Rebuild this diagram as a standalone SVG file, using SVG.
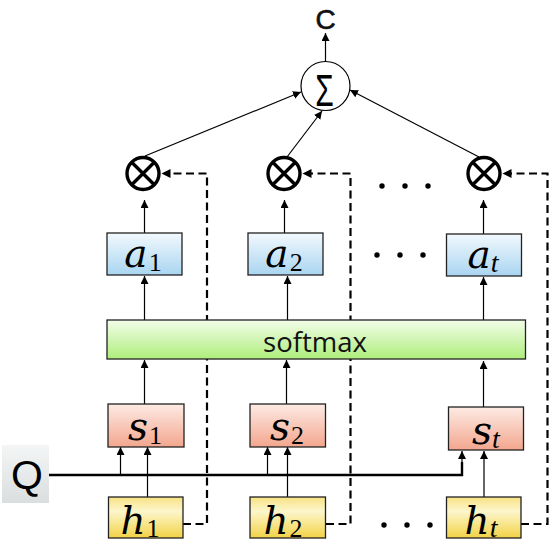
<svg xmlns="http://www.w3.org/2000/svg" width="550" height="553" viewBox="0 0 550 553">
<defs>
<linearGradient id="gA" x1="0" y1="0" x2="0" y2="1"><stop offset="0" stop-color="#f2f9fd"/><stop offset="1" stop-color="#a9d5f1"/></linearGradient>
<linearGradient id="gS" x1="0" y1="0" x2="0" y2="1"><stop offset="0" stop-color="#fdebe4"/><stop offset="1" stop-color="#f3a68e"/></linearGradient>
<linearGradient id="gH" x1="0" y1="0" x2="0" y2="1"><stop offset="0" stop-color="#f7e283"/><stop offset="0.35" stop-color="#fdf6cc"/><stop offset="1" stop-color="#f2d245"/></linearGradient>
<linearGradient id="gM" x1="0" y1="0" x2="0" y2="1"><stop offset="0" stop-color="#f3fde9"/><stop offset="1" stop-color="#aeee7c"/></linearGradient>
<linearGradient id="gQ" x1="0" y1="0" x2="0" y2="1"><stop offset="0" stop-color="#f4f6f6"/><stop offset="1" stop-color="#dadede"/></linearGradient>
<marker id="ah" viewBox="0 0 10 10" refX="10" refY="5" markerWidth="8" markerHeight="8" markerUnits="userSpaceOnUse" orient="auto"><path d="M0,0 L10,5 L0,10 z" fill="#000"/></marker>
<style>
.box{stroke:#222;stroke-width:1.3}
.ln{stroke:#000;stroke-width:1.2;fill:none}
.dash{stroke:#000;stroke-width:2.2;fill:none;stroke-dasharray:8,4.5}
.ql{stroke:#000;stroke-width:2.4;fill:none}
.mt{font-family:"DejaVu Serif","Liberation Serif",serif;font-style:italic;font-size:39px;fill:#000}
.sub{font-family:"Liberation Serif",serif;font-size:26px;font-style:normal}
.subi{font-family:"Liberation Serif",serif;font-size:28px;font-style:italic}
.dot{fill:#000}
.ot{stroke:#000;stroke-width:3.4;fill:#fff}
.ox{stroke:#000;stroke-width:3.4}
</style>
</defs>

<g id="connectors">
  <line class="ln" x1="325.5" y1="61" x2="325.5" y2="33" marker-end="url(#ah)"/>
  <line class="ln" x1="145" y1="156" x2="301" y2="92" marker-end="url(#ah)"/>
  <line class="ln" x1="287" y1="157" x2="322" y2="111" marker-end="url(#ah)"/>
  <line class="ln" x1="479" y1="157" x2="350" y2="90" marker-end="url(#ah)"/>
  <line class="ln" x1="144.5" y1="233" x2="144.5" y2="200" marker-end="url(#ah)"/>
  <line class="ln" x1="284.5" y1="233" x2="284.5" y2="200" marker-end="url(#ah)"/>
  <line class="ln" x1="483.5" y1="234" x2="483.5" y2="200" marker-end="url(#ah)"/>
  <line class="ln" x1="144.5" y1="320" x2="144.5" y2="276" marker-end="url(#ah)"/>
  <line class="ln" x1="287.5" y1="320" x2="287.5" y2="276" marker-end="url(#ah)"/>
  <line class="ln" x1="483.5" y1="320" x2="483.5" y2="277" marker-end="url(#ah)"/>
  <line class="ln" x1="144.5" y1="404" x2="144.5" y2="360" marker-end="url(#ah)"/>
  <line class="ln" x1="286.5" y1="404" x2="286.5" y2="360" marker-end="url(#ah)"/>
  <line class="ln" x1="483.5" y1="407" x2="483.5" y2="361" marker-end="url(#ah)"/>
  <line class="ln" x1="147.5" y1="497" x2="147.5" y2="447" marker-end="url(#ah)"/>
  <line class="ln" x1="287.5" y1="497" x2="287.5" y2="447" marker-end="url(#ah)"/>
  <line class="ln" x1="484" y1="497" x2="484" y2="451" marker-end="url(#ah)"/>
  <polyline class="ql" points="49,475 462,475 462,462"/>
  <line class="ln" x1="462" y1="463" x2="462" y2="451" marker-end="url(#ah)"/>
  <line class="ln" x1="120.5" y1="475" x2="120.5" y2="447" marker-end="url(#ah)"/>
  <line class="ln" x1="267.5" y1="475" x2="267.5" y2="447" marker-end="url(#ah)"/>
  <polyline class="dash" points="183,524 207,524 207,173.5 170,173.5"/>
  <polyline class="dash" points="326,524 350.5,524 350.5,173.5 311,173.5"/>
  <polyline class="dash" points="521,524 547.5,524 547.5,173.5 511,173.5"/>
  <path d="M161.5,173.5 l9,-4.5 v9 z" fill="#000"/>
  <path d="M302.5,173.5 l9,-4.5 v9 z" fill="#000"/>
  <path d="M502.5,173.5 l9,-4.5 v9 z" fill="#000"/>
</g>

<g id="C"><text x="325.5" y="29" text-anchor="middle" font-family="Liberation Sans, sans-serif" font-size="28" fill="#111" stroke="#111" stroke-width="0.6">C</text></g>
<g id="sum">
  <circle cx="325.5" cy="86" r="24.5" fill="#fff" stroke="#000" stroke-width="1.2"/>
  <text transform="translate(324.5,106) scale(0.68,1)" text-anchor="middle" font-family="Liberation Sans, sans-serif" font-size="44" fill="#000">Σ</text>
</g>
<g id="m1"><circle class="ot" cx="143" cy="173.5" r="16"/><path class="ox" d="M131.7,162.2 L154.3,184.8 M154.3,162.2 L131.7,184.8"/></g>
<g id="m2"><circle class="ot" cx="284" cy="173.5" r="16"/><path class="ox" d="M272.7,162.2 L295.3,184.8 M295.3,162.2 L272.7,184.8"/></g>
<g id="mt"><circle class="ot" cx="484" cy="173.5" r="16"/><path class="ox" d="M472.7,162.2 L495.3,184.8 M495.3,162.2 L472.7,184.8"/></g>

<g id="dots1"><circle class="dot" cx="382" cy="186" r="2.7"/><circle class="dot" cx="405" cy="186" r="2.7"/><circle class="dot" cx="428" cy="186" r="2.7"/></g>
<g id="dots2"><circle class="dot" cx="377" cy="255" r="2.7"/><circle class="dot" cx="400" cy="255" r="2.7"/><circle class="dot" cx="423" cy="255" r="2.7"/></g>
<g id="dots3"><circle class="dot" cx="384" cy="525" r="2.7"/><circle class="dot" cx="407" cy="525" r="2.7"/><circle class="dot" cx="430" cy="525" r="2.7"/></g>

<g id="a1"><rect class="box" x="107" y="233" width="75" height="42" fill="url(#gA)"/><text class="mt" x="143" y="267" text-anchor="middle">a<tspan class="sub" dx="1" dy="4">1</tspan></text></g>
<g id="a2"><rect class="box" x="248" y="233" width="75" height="42" fill="url(#gA)"/><text class="mt" x="284" y="267" text-anchor="middle">a<tspan class="sub" dx="1" dy="4">2</tspan></text></g>
<g id="at"><rect class="box" x="446.5" y="234" width="75" height="42" fill="url(#gA)"/><text class="mt" x="483" y="268" text-anchor="middle">a<tspan class="subi" dx="0" dy="4">t</tspan></text></g>

<g id="softmax"><rect class="box" x="107" y="320" width="418.5" height="39" fill="url(#gM)"/><text x="315" y="352" text-anchor="middle" font-family="Open Sans, Liberation Sans, sans-serif" font-size="27.5" fill="#111">softmax</text></g>

<g id="s1"><rect class="box" x="108" y="404" width="76" height="43" fill="url(#gS)"/><text class="mt" x="145" y="440" text-anchor="middle">s<tspan class="sub" dx="1" dy="4">1</tspan></text></g>
<g id="s2"><rect class="box" x="250" y="404" width="75.5" height="43" fill="url(#gS)"/><text class="mt" x="287" y="440" text-anchor="middle">s<tspan class="sub" dx="1" dy="4">2</tspan></text></g>
<g id="st"><rect class="box" x="448.5" y="407" width="75" height="43" fill="url(#gS)"/><text class="mt" x="486" y="443.5" text-anchor="middle">s<tspan class="subi" dx="0" dy="4">t</tspan></text></g>

<g id="h1"><rect class="box" x="108.5" y="497" width="74.5" height="41" fill="url(#gH)"/><text class="mt" x="140" y="533.5" text-anchor="middle">h<tspan class="sub" dx="1" dy="3">1</tspan></text></g>
<g id="h2"><rect class="box" x="250" y="497" width="75.5" height="41" fill="url(#gH)"/><text class="mt" x="283" y="533.5" text-anchor="middle">h<tspan class="sub" dx="1" dy="3">2</tspan></text></g>
<g id="ht"><rect class="box" x="446.5" y="497" width="74.5" height="41" fill="url(#gH)"/><text class="mt" x="481" y="533.5" text-anchor="middle">h<tspan class="subi" dx="0" dy="3">t</tspan></text></g>

<g id="Q"><rect x="2" y="445" width="47" height="58" fill="url(#gQ)"/><text x="27" y="489" text-anchor="middle" font-family="Liberation Sans, sans-serif" font-size="41" fill="#000">Q</text></g>
</svg>
